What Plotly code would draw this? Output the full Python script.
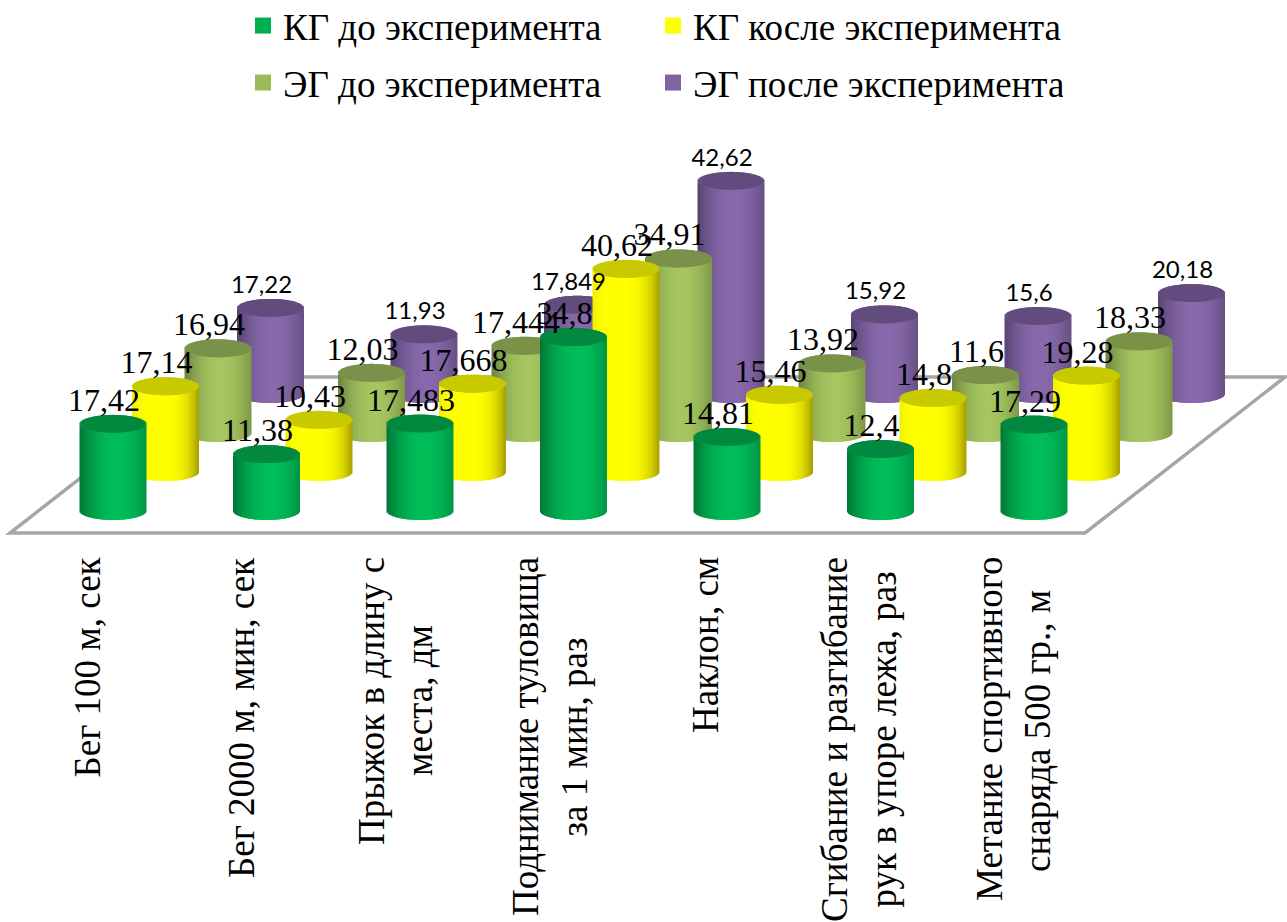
import numpy as np
import plotly.graph_objects as go

# Chart values
categories = [
    ["Бег 100 м, сек"],
    ["Бег 2000 м, мин, сек"],
    ["Прыжок в длину с", "места, дм"],
    ["Поднимание туловища", "за 1 мин, раз"],
    ["Наклон, см"],
    ["Сгибание и разгибание", "рук в упоре лежа, раз"],
    ["Метание спортивного", "снаряда 500 гр., м"],
]
kg_before = [17.42, 11.38, 17.483, 34.8, 14.81, 12.4, 17.29]
kg_after = [17.14, 10.43, 17.668, 40.62, 15.46, 14.8, 19.28]
eg_before = [16.94, 12.03, 17.444, 34.91, 13.92, 11.6, 18.33]
eg_after = [17.22, 11.93, 17.849, 42.62, 15.92, 15.6, 20.18]

series_names = ["КГ до эксперимента", "КГ косле эксперимента",
                "ЭГ до эксперимента", "ЭГ после эксперимента"]
series_values = [kg_before, kg_after, eg_before, eg_after]

# Swatch, lit side, shaded edge and cap colours per series
swatches = ["#00B050", "#FFFF00", "#9BBB59", "#8064A2"]
side_light = [(0, 189, 88), (255, 255, 0), (165, 198, 96), (136, 105, 172)]
side_dark = [(0, 118, 54), (168, 160, 0), (108, 130, 62), (86, 68, 112)]
cap_colors = ["#00893F", "#C9C900", "#7B9149", "#624C7E"]
lit_center = [0.15, -0.25, 0.1, 0.1]
shade_power = [2.0, 3.5, 2.0, 2.0]

# Oblique projection: pixels per category, per value unit, offset per depth row
W, H = 1287, 922
PX_CAT = 153.5
PX_VAL = 5.0
ROW_DX = 52.5 / PX_CAT      # sideways shift of one depth row, in categories
ROW_DY = 39.0 / PX_VAL      # upward shift of one depth row, in value units
RX = 33.0 / PX_CAT          # cylinder half width
RY = 9.0 / PX_VAL           # half height of the elliptical caps
X0_PX, Y0_PX = 113.0, 511.0 # where category 0 of the front row stands
STRIPS = 66

fig = go.Figure()


def mix(a, b, t):
    return "rgb(%d,%d,%d)" % tuple(round(a[k] + (b[k] - a[k]) * t) for k in range(3))


def cylinder_strips(s, values):
    """Bars of one series: narrow strips for the wall, then for the cap."""
    xs, bases, heights, colors, widths = [], [], [], [], []
    du = 2.0 / STRIPS
    us = -1 + du * (np.arange(STRIPS) + 0.5)
    for i, v in enumerate(values):
        cx = i + ROW_DX * s
        floor = ROW_DY * s
        for u in us:
            rim = RY * np.sqrt(1 - u * u)
            t = min(1.0, abs(u - lit_center[s]) / (1 + abs(lit_center[s]))) ** shade_power[s]
            xs.append(cx + RX * u)
            bases.append(floor - rim)
            heights.append(v)
            colors.append(mix(side_light[s], side_dark[s], t))
            widths.append(RX * du * 2.0)
        for u in us:
            rim = RY * np.sqrt(1 - u * u)
            xs.append(cx + RX * u)
            bases.append(floor + v - rim)
            heights.append(2 * rim)
            colors.append(cap_colors[s])
            widths.append(RX * du * 2.0)
    return xs, bases, heights, colors, widths


# Rows are added back to front so nearer cylinders cover farther ones
for s in reversed(range(4)):
    xs, bases, heights, colors, widths = cylinder_strips(s, series_values[s])
    fig.add_trace(go.Bar(
        x=xs, y=heights, base=bases, width=widths, name=series_names[s],
        marker=dict(color=colors, line=dict(width=0)),
        showlegend=False, hoverinfo="skip",
    ))


def label_text(v):
    return f"{v:g}".replace(".", ",")


# Value labels above each cylinder
LABEL_DX = -9.0 / PX_CAT
LABEL_DY = 21.0 / PX_VAL
for s in reversed(range(4)):
    is_back = s == 3
    fig.add_trace(go.Scatter(
        x=[i + ROW_DX * s + LABEL_DX for i in range(7)],
        y=[ROW_DY * s + v + LABEL_DY for v in series_values[s]],
        text=[label_text(v) for v in series_values[s]],
        mode="text", textposition="middle center", cliponaxis=False,
        textfont=dict(family="Lato" if is_back else "Liberation Serif",
                      size=24 if is_back else 32, color="#000000"),
        showlegend=False, hoverinfo="skip",
    ))

# Legend entries, two rows of two
for s, name in enumerate(series_names):
    fig.add_trace(go.Scatter(
        x=[None], y=[None], mode="markers", name=name,
        marker=dict(symbol="square", size=19, color=swatches[s]),
        legend="legend" if s < 2 else "legend2",
    ))

legend_style = dict(
    orientation="h", entrywidth=365, entrywidthmode="pixels",
    itemsizing="trace", xanchor="left", yanchor="middle",
    font=dict(family="Liberation Serif", size=37, color="#000000"),
    bgcolor="rgba(0,0,0,0)", borderwidth=0,
)

# Rotated category captions under the floor
CAPTION_FONT = dict(family="Liberation Serif", size=37, color="#000000")
second_line_center = {2: 701, 3: 737, 5: 740, 6: 731}
page_notes = []
for i, lines in enumerate(categories):
    xc = 87 + 154.5 * i
    if len(lines) == 1:
        page_notes.append(dict(
            x=xc / W, y=1 - 555 / H, xref="paper", yref="paper", text=lines[0],
            textangle=-90, showarrow=False, xanchor="center", yanchor="top",
            font=CAPTION_FONT,
        ))
    else:
        page_notes.append(dict(
            x=(xc - 25) / W, y=1 - 555 / H, xref="paper", yref="paper", text=lines[0],
            textangle=-90, showarrow=False, xanchor="center", yanchor="top",
            font=CAPTION_FONT,
        ))
        page_notes.append(dict(
            x=(xc + 23) / W, y=1 - second_line_center[i] / H, xref="paper", yref="paper",
            text=lines[1], textangle=-90, showarrow=False, xanchor="center",
            yanchor="middle", font=CAPTION_FONT,
        ))


def to_x(px):
    return (px - X0_PX) / PX_CAT


def to_y(px):
    return (Y0_PX - px) / PX_VAL


# Floor outline sits below the bars
floor_path = "M {} {} L {} {} L {} {} L {} {} Z".format(
    to_x(10), to_y(533), to_x(1085), to_y(533),
    to_x(1285), to_y(377), to_x(210), to_y(377))

fig.update_layout(
    width=W, height=H, margin=dict(l=0, r=0, t=0, b=0, autoexpand=False),
    paper_bgcolor="#FFFFFF", plot_bgcolor="#FFFFFF",
    barmode="overlay", showlegend=True,
    xaxis=dict(range=[to_x(0), to_x(W)], visible=False, fixedrange=True),
    yaxis=dict(range=[to_y(H), to_y(0)], visible=False, fixedrange=True),
    legend=dict(x=243 / W, y=1 - 26 / H, **legend_style),
    legend2=dict(x=243 / W, y=1 - 83 / H, **legend_style),
    annotations=page_notes,
    shapes=[dict(type="path", path=floor_path, layer="below", xref="x", yref="y",
                 line=dict(color="#A6A6A6", width=3.5), fillcolor="#FFFFFF")],
)

fig.write_html("out.html")
